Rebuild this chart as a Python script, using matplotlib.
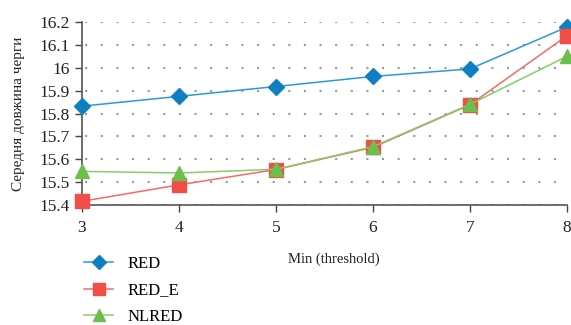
import matplotlib
matplotlib.use("Agg")
import matplotlib.pyplot as plt

plt.rcParams['font.family'] = ['Liberation Serif', 'DejaVu Serif']

thresholds = [3, 4, 5, 6, 7, 8]
red = [15.832, 15.875, 15.918, 15.962, 15.995, 16.178]
red_e = [15.416, 15.488, 15.555, 15.652, 15.838, 16.140]
nlred = [15.547, 15.540, 15.556, 15.655, 15.840, 16.050]
yticks = [15.4, 15.5, 15.6, 15.7, 15.8, 15.9, 16.0, 16.1, 16.2]
ytick_labels = ['15.4', '15.5', '15.6', '15.7', '15.8', '15.9', '16', '16.1', '16.2']

fig = plt.figure(figsize=(5.71, 3.25), dpi=100)
ax = fig.add_axes([82/571, 1-205/325, (567-82)/571, (205-22)/325])

ax.plot(thresholds, red, color='#2a9ad6', lw=1.1, marker='D', ms=8,
        mfc='#0f7fc4', mec='#0f7fc4', label='RED', zorder=3, clip_on=False)
ax.plot(thresholds, red_e, color='#f26b66', lw=1.1, marker='s', ms=10,
        mfc='#f24e48', mec='#f24e48', label='RED_E', zorder=4, clip_on=False)
ax.plot(thresholds, nlred, color='#86cc6a', lw=1.1, marker='^', ms=10,
        mfc='#6cbf4c', mec='#6cbf4c', label='NLRED', zorder=5, clip_on=False)

ax.set_xlim(3, 8)
ax.set_ylim(15.4, 16.2)
ax.set_xticks(thresholds)
ax.set_yticks(yticks)
ax.set_yticklabels(ytick_labels)
ax.tick_params(direction='out', length=5, width=1, colors='#444444',
               labelcolor='#222222', labelsize=12.5)
ax.tick_params(axis='x', pad=6)
ax.tick_params(axis='y', pad=4)
for s in ['top', 'right']:
    ax.spines[s].set_visible(False)
for s in ['left', 'bottom']:
    ax.spines[s].set_color('#555555')
    ax.spines[s].set_linewidth(1.2)
ax.yaxis.grid(True, linestyle=(6, (1, 6.5)), color='#999999', lw=1.5)
ax.xaxis.grid(False)
ax.set_axisbelow(True)

ax.set_xlabel('Min (threshold)', fontsize=10.5, color='#222222')
ax.xaxis.set_label_coords(0.52, -0.26)
ax.set_ylabel('Середня довжина черги', fontsize=11, color='#222222', labelpad=10)

handles, labels = ax.get_legend_handles_labels()
fig.legend(handles, labels, loc='upper left', bbox_to_anchor=(84/571, 1-256/325),
           frameon=False, fontsize=12, handlelength=1.75, labelspacing=0.62,
           handletextpad=0.85, borderaxespad=0, borderpad=0, markerscale=0.85)

fig.savefig('out.png', dpi=100)
